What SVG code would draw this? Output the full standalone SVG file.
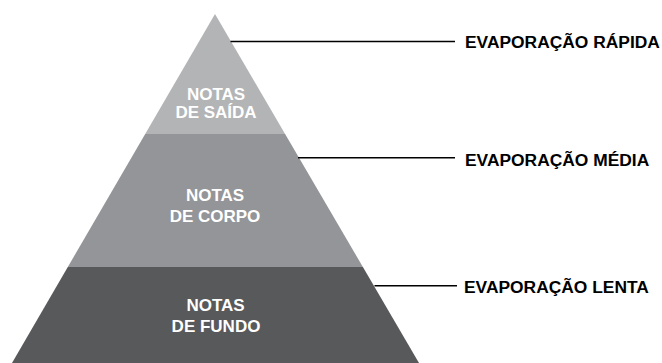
<svg xmlns="http://www.w3.org/2000/svg" width="662" height="363" viewBox="0 0 662 363">
<style>
.in{font-family:"Liberation Sans",Arial,Helvetica,sans-serif;font-weight:700;font-size:17px;fill:#ffffff;text-anchor:middle}
.lb{font-family:"Liberation Sans",Arial,Helvetica,sans-serif;font-weight:700;font-size:17.4px;fill:#000000}
.cn{stroke:#000000;stroke-width:1.5;fill:none}
</style>
<rect width="662" height="363" fill="#ffffff"/>
<g id="fundo">
<polygon points="67.8,267 362.9,267 419,363 12,363" fill="#58595b"/>
<text class="in" x="215.5" y="310.7">NOTAS</text>
<text class="in" x="216" y="331.7">DE FUNDO</text>
</g>
<g id="corpo">
<polygon points="145.2,134 285.1,134 362.9,267 67.8,267" fill="#939598"/>
<text class="in" x="215" y="200.7">NOTAS</text>
<text class="in" x="215" y="221.7">DE CORPO</text>
</g>
<g id="saida">
<polygon points="215,14 285.1,134 145.2,134" fill="#b3b4b6"/>
<text class="in" x="216" y="100">NOTAS</text>
<text class="in" x="216" y="118.3">DE SAÍDA</text>
</g>
<g id="connectors">
<line class="cn" x1="230.5" y1="41.5" x2="455" y2="41.5"/>
<line class="cn" x1="298" y1="157.7" x2="455" y2="157.7"/>
<line class="cn" x1="374.5" y1="285.8" x2="457" y2="285.8"/>
</g>
<g id="labels">
<text class="lb" x="465" y="47.5">EVAPORAÇÃO RÁPIDA</text>
<text class="lb" x="465" y="166.3">EVAPORAÇÃO MÉDIA</text>
<text class="lb" x="464" y="293.3">EVAPORAÇÃO LENTA</text>
</g>
</svg>
